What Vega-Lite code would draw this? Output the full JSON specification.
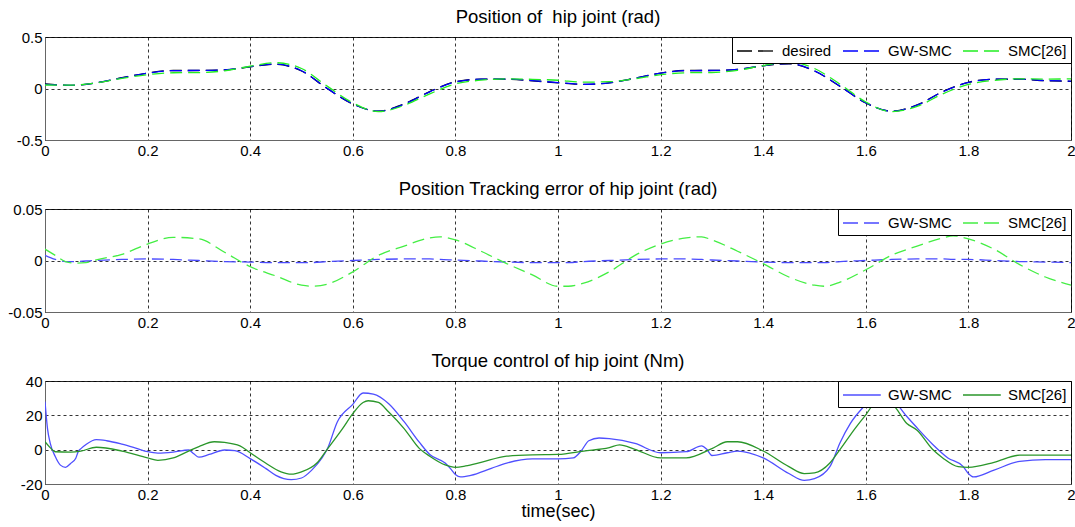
{
  "$schema": "https://vega.github.io/schema/vega-lite/v6.json",
  "background": "#ffffff",
  "padding": {"left": 4, "top": 7, "right": 5, "bottom": 2},
  "spacing": 20,
  "resolve": {"scale": {"color": "independent"}, "legend": {"color": "independent"}},
  "config": {
    "font": "Liberation Sans",
    "view": {"stroke": "#222222", "strokeWidth": 1},
    "title": {"font": "Liberation Sans", "fontSize": 18.5, "fontWeight": "normal", "color": "#000000", "anchor": "middle", "offset": 4},
    "axis": {
      "labelFont": "Liberation Sans", "labelFontSize": 15, "labelColor": "#000000",
      "domainColor": "#666666", "ticks": false, "labelPadding": 3,
      "grid": true, "gridColor": "#000000", "gridDash": [3, 3], "gridOpacity": 1, "gridWidth": 0.8,
      "titleFont": "Liberation Sans", "titleFontWeight": "normal", "titleColor": "#000000"
    },
    "axisY": {"minExtent": 40, "maxExtent": 40},
    "axisX": {"minExtent": 18, "maxExtent": 18, "labelFlush": false},
    "legend": {
      "orient": "top-right", "offset": 0, "direction": "horizontal",
      "strokeColor": "#000000", "fillColor": "#ffffff", "padding": 4, "cornerRadius": 0,
      "symbolType": "M-1,0H3.2", "symbolSize": 324, "symbolStrokeWidth": 1.3,
      "labelFont": "Liberation Sans", "labelFontSize": 15, "labelColor": "#000000",
      "labelOffset": 26, "columnPadding": 8
    }
  },
  "vconcat": [
    {
      "title": "Position of\u00a0 hip joint (rad)",
      "width": 1026, "height": 103,
      "data": {"values": [
        {"t": 0, "desired": 0.045, "gw": 0.040, "smc": 0.034},
        {"t": 0.05, "desired": 0.030, "gw": 0.031, "smc": 0.032},
        {"t": 0.1, "desired": 0.055, "gw": 0.055, "smc": 0.054},
        {"t": 0.15, "desired": 0.105, "gw": 0.104, "smc": 0.099},
        {"t": 0.2, "desired": 0.150, "gw": 0.149, "smc": 0.134},
        {"t": 0.25, "desired": 0.175, "gw": 0.174, "smc": 0.153},
        {"t": 0.3, "desired": 0.175, "gw": 0.175, "smc": 0.154},
        {"t": 0.35, "desired": 0.180, "gw": 0.181, "smc": 0.172},
        {"t": 0.4, "desired": 0.210, "gw": 0.212, "smc": 0.216},
        {"t": 0.45, "desired": 0.235, "gw": 0.237, "smc": 0.250},
        {"t": 0.5, "desired": 0.170, "gw": 0.172, "smc": 0.194},
        {"t": 0.55, "desired": 0.000, "gw": 0.001, "smc": 0.023},
        {"t": 0.6, "desired": -0.150, "gw": -0.150, "smc": -0.139},
        {"t": 0.65, "desired": -0.220, "gw": -0.221, "smc": -0.225},
        {"t": 0.7, "desired": -0.150, "gw": -0.152, "smc": -0.164},
        {"t": 0.75, "desired": -0.030, "gw": -0.032, "smc": -0.052},
        {"t": 0.8, "desired": 0.065, "gw": 0.064, "smc": 0.045},
        {"t": 0.85, "desired": 0.090, "gw": 0.090, "smc": 0.081},
        {"t": 0.9, "desired": 0.090, "gw": 0.092, "smc": 0.093},
        {"t": 0.95, "desired": 0.075, "gw": 0.077, "smc": 0.089},
        {"t": 1.0, "desired": 0.055, "gw": 0.057, "smc": 0.080},
        {"t": 1.05, "desired": 0.040, "gw": 0.041, "smc": 0.062},
        {"t": 1.1, "desired": 0.055, "gw": 0.055, "smc": 0.066},
        {"t": 1.15, "desired": 0.100, "gw": 0.099, "smc": 0.095},
        {"t": 1.2, "desired": 0.150, "gw": 0.149, "smc": 0.134},
        {"t": 1.25, "desired": 0.175, "gw": 0.174, "smc": 0.153},
        {"t": 1.3, "desired": 0.175, "gw": 0.175, "smc": 0.155},
        {"t": 1.35, "desired": 0.185, "gw": 0.186, "smc": 0.176},
        {"t": 1.4, "desired": 0.220, "gw": 0.222, "smc": 0.223},
        {"t": 1.45, "desired": 0.240, "gw": 0.242, "smc": 0.256},
        {"t": 1.5, "desired": 0.170, "gw": 0.172, "smc": 0.194},
        {"t": 1.55, "desired": 0.020, "gw": 0.021, "smc": 0.041},
        {"t": 1.6, "desired": -0.140, "gw": -0.140, "smc": -0.131},
        {"t": 1.65, "desired": -0.220, "gw": -0.221, "smc": -0.225},
        {"t": 1.7, "desired": -0.160, "gw": -0.162, "smc": -0.174},
        {"t": 1.75, "desired": -0.030, "gw": -0.032, "smc": -0.052},
        {"t": 1.8, "desired": 0.060, "gw": 0.059, "smc": 0.039},
        {"t": 1.85, "desired": 0.090, "gw": 0.090, "smc": 0.079},
        {"t": 1.9, "desired": 0.090, "gw": 0.091, "smc": 0.094},
        {"t": 1.95, "desired": 0.075, "gw": 0.077, "smc": 0.091},
        {"t": 2.0, "desired": 0.070, "gw": 0.072, "smc": 0.094}
      ]},
      "transform": [{"fold": ["desired", "gw", "smc"], "as": ["series", "value"]}],
      "mark": {"type": "line", "strokeDash": [12, 6], "strokeWidth": 1.3, "interpolate": "monotone", "clip": true},
      "encoding": {
        "x": {"field": "t", "type": "quantitative", "scale": {"domain": [0, 2], "nice": false},
              "axis": {"values": [0, 0.2, 0.4, 0.6, 0.8, 1, 1.2, 1.4, 1.6, 1.8, 2], "format": "~g", "title": null}},
        "y": {"field": "value", "type": "quantitative", "scale": {"domain": [-0.5, 0.5], "nice": false},
              "axis": {"values": [-0.5, 0, 0.5], "format": "~g", "title": null, "labelExpr": "replace(datum.label, '\u2212', '-')"}},
        "color": {"field": "series", "type": "nominal",
                  "scale": {"domain": ["desired", "gw", "smc"], "range": ["#000000", "#0000ff", "#22ee22"]},
                  "legend": {"title": null, "symbolDash": [15, 6], "labelExpr": "datum.value == 'desired' ? 'desired' : datum.value == 'gw' ? 'GW-SMC' : 'SMC[26]'"}}
      }
    },
    {
      "title": "Position Tracking error of hip joint (rad)",
      "width": 1026, "height": 103,
      "data": {"values": [
        {"t": 0, "gw": 0.005, "smc": 0.011},
        {"t": 0.02, "gw": 0.001, "smc": 0.005},
        {"t": 0.04, "gw": -0.001, "smc": -0.001},
        {"t": 0.06, "gw": -0.001, "smc": -0.0025},
        {"t": 0.08, "gw": -0.0005, "smc": -0.002},
        {"t": 0.1, "gw": 0, "smc": 0.0007},
        {"t": 0.15, "gw": 0.001, "smc": 0.006},
        {"t": 0.2, "gw": 0.0015, "smc": 0.016},
        {"t": 0.25, "gw": 0.001, "smc": 0.0225},
        {"t": 0.3, "gw": 0, "smc": 0.021},
        {"t": 0.35, "gw": -0.001, "smc": 0.008},
        {"t": 0.4, "gw": -0.0015, "smc": -0.006},
        {"t": 0.45, "gw": -0.002, "smc": -0.015},
        {"t": 0.5, "gw": -0.002, "smc": -0.024},
        {"t": 0.52, "gw": -0.002, "smc": -0.025},
        {"t": 0.55, "gw": -0.001, "smc": -0.023},
        {"t": 0.6, "gw": 0, "smc": -0.011},
        {"t": 0.65, "gw": 0.001, "smc": 0.005},
        {"t": 0.7, "gw": 0.0015, "smc": 0.014},
        {"t": 0.75, "gw": 0.0015, "smc": 0.022},
        {"t": 0.77, "gw": 0.001, "smc": 0.023},
        {"t": 0.8, "gw": 0.0005, "smc": 0.02},
        {"t": 0.85, "gw": -0.0005, "smc": 0.009},
        {"t": 0.9, "gw": -0.0015, "smc": -0.003},
        {"t": 0.95, "gw": -0.002, "smc": -0.014},
        {"t": 1.0, "gw": -0.002, "smc": -0.025},
        {"t": 1.02, "gw": -0.002, "smc": -0.025},
        {"t": 1.05, "gw": -0.001, "smc": -0.022},
        {"t": 1.1, "gw": 0, "smc": -0.011},
        {"t": 1.15, "gw": 0.001, "smc": 0.005},
        {"t": 1.2, "gw": 0.0015, "smc": 0.016},
        {"t": 1.25, "gw": 0.0015, "smc": 0.022},
        {"t": 1.28, "gw": 0.001, "smc": 0.023},
        {"t": 1.3, "gw": 0.0005, "smc": 0.02},
        {"t": 1.35, "gw": -0.0005, "smc": 0.009},
        {"t": 1.4, "gw": -0.0015, "smc": -0.003},
        {"t": 1.45, "gw": -0.002, "smc": -0.016},
        {"t": 1.5, "gw": -0.002, "smc": -0.024},
        {"t": 1.52, "gw": -0.002, "smc": -0.025},
        {"t": 1.55, "gw": -0.001, "smc": -0.021},
        {"t": 1.6, "gw": 0, "smc": -0.009},
        {"t": 1.65, "gw": 0.001, "smc": 0.005},
        {"t": 1.7, "gw": 0.0015, "smc": 0.014},
        {"t": 1.75, "gw": 0.0015, "smc": 0.022},
        {"t": 1.77, "gw": 0.001, "smc": 0.024},
        {"t": 1.8, "gw": 0.001, "smc": 0.021},
        {"t": 1.85, "gw": 0, "smc": 0.011},
        {"t": 1.9, "gw": -0.001, "smc": -0.004},
        {"t": 1.95, "gw": -0.0015, "smc": -0.016},
        {"t": 2.0, "gw": -0.002, "smc": -0.024}
      ]},
      "transform": [{"fold": ["gw", "smc"], "as": ["series", "value"]}],
      "mark": {"type": "line", "strokeDash": [12, 6], "strokeWidth": 1.3, "interpolate": "monotone", "clip": true},
      "encoding": {
        "x": {"field": "t", "type": "quantitative", "scale": {"domain": [0, 2], "nice": false},
              "axis": {"values": [0, 0.2, 0.4, 0.6, 0.8, 1, 1.2, 1.4, 1.6, 1.8, 2], "format": "~g", "title": null}},
        "y": {"field": "value", "type": "quantitative", "scale": {"domain": [-0.05, 0.05], "nice": false},
              "axis": {"values": [-0.05, 0, 0.05], "format": "~g", "title": null, "labelExpr": "replace(datum.label, '\u2212', '-')"}},
        "color": {"field": "series", "type": "nominal",
                  "scale": {"domain": ["gw", "smc"], "range": ["#4a4aff", "#44ee44"]},
                  "legend": {"title": null, "symbolDash": [15, 6], "labelExpr": "datum.value == 'gw' ? 'GW-SMC' : 'SMC[26]'"}}
      }
    },
    {
      "title": "Torque control of hip joint (Nm)",
      "width": 1026, "height": 103,
      "data": {"values": [
        {"t": 0, "series": "gw", "value": 28},
        {"t": 0.005, "series": "gw", "value": 12},
        {"t": 0.01, "series": "gw", "value": 4},
        {"t": 0.02, "series": "gw", "value": -4},
        {"t": 0.03, "series": "gw", "value": -9},
        {"t": 0.04, "series": "gw", "value": -10.3},
        {"t": 0.05, "series": "gw", "value": -8},
        {"t": 0.06, "series": "gw", "value": -5},
        {"t": 0.065, "series": "gw", "value": -1},
        {"t": 0.07, "series": "gw", "value": 0.6},
        {"t": 0.08, "series": "gw", "value": 3},
        {"t": 0.1, "series": "gw", "value": 5.8},
        {"t": 0.12, "series": "gw", "value": 5.2},
        {"t": 0.15, "series": "gw", "value": 3.2},
        {"t": 0.18, "series": "gw", "value": 0.6},
        {"t": 0.2, "series": "gw", "value": -1.2},
        {"t": 0.22, "series": "gw", "value": -2},
        {"t": 0.25, "series": "gw", "value": -1.4},
        {"t": 0.28, "series": "gw", "value": -0.2},
        {"t": 0.29, "series": "gw", "value": -2.4},
        {"t": 0.3, "series": "gw", "value": -4.4},
        {"t": 0.32, "series": "gw", "value": -2.8},
        {"t": 0.35, "series": "gw", "value": -0.2},
        {"t": 0.37, "series": "gw", "value": -0.6},
        {"t": 0.4, "series": "gw", "value": -5.2},
        {"t": 0.43, "series": "gw", "value": -10.9},
        {"t": 0.45, "series": "gw", "value": -15},
        {"t": 0.48, "series": "gw", "value": -17.5},
        {"t": 0.5, "series": "gw", "value": -16.5},
        {"t": 0.52, "series": "gw", "value": -11.9},
        {"t": 0.54, "series": "gw", "value": -4.8},
        {"t": 0.55, "series": "gw", "value": 0.2},
        {"t": 0.57, "series": "gw", "value": 16.3},
        {"t": 0.6, "series": "gw", "value": 26.4},
        {"t": 0.62, "series": "gw", "value": 33},
        {"t": 0.64, "series": "gw", "value": 32.4},
        {"t": 0.67, "series": "gw", "value": 26.8},
        {"t": 0.7, "series": "gw", "value": 16.3},
        {"t": 0.73, "series": "gw", "value": 4.2},
        {"t": 0.75, "series": "gw", "value": -2.8},
        {"t": 0.78, "series": "gw", "value": -7.8},
        {"t": 0.79, "series": "gw", "value": -10.9},
        {"t": 0.8, "series": "gw", "value": -14.5},
        {"t": 0.81, "series": "gw", "value": -15.9},
        {"t": 0.83, "series": "gw", "value": -15},
        {"t": 0.87, "series": "gw", "value": -10.9},
        {"t": 0.9, "series": "gw", "value": -7.8},
        {"t": 0.95, "series": "gw", "value": -5.4},
        {"t": 1.0, "series": "gw", "value": -5.4},
        {"t": 1.03, "series": "gw", "value": -4.8},
        {"t": 1.045, "series": "gw", "value": -0.8},
        {"t": 1.06, "series": "gw", "value": 5.2},
        {"t": 1.08, "series": "gw", "value": 6.8},
        {"t": 1.1, "series": "gw", "value": 6.4},
        {"t": 1.15, "series": "gw", "value": 3.6},
        {"t": 1.2, "series": "gw", "value": -1.8},
        {"t": 1.25, "series": "gw", "value": -1.2},
        {"t": 1.28, "series": "gw", "value": 2.2},
        {"t": 1.29, "series": "gw", "value": 0.2},
        {"t": 1.3, "series": "gw", "value": -3.4},
        {"t": 1.33, "series": "gw", "value": -1.8},
        {"t": 1.35, "series": "gw", "value": -0.8},
        {"t": 1.4, "series": "gw", "value": -4.8},
        {"t": 1.45, "series": "gw", "value": -13.9},
        {"t": 1.48, "series": "gw", "value": -17.9},
        {"t": 1.5, "series": "gw", "value": -16.9},
        {"t": 1.53, "series": "gw", "value": -9.9},
        {"t": 1.55, "series": "gw", "value": 4.2},
        {"t": 1.57, "series": "gw", "value": 15.3},
        {"t": 1.6, "series": "gw", "value": 26.4},
        {"t": 1.62, "series": "gw", "value": 33},
        {"t": 1.65, "series": "gw", "value": 30},
        {"t": 1.68, "series": "gw", "value": 19.3},
        {"t": 1.7, "series": "gw", "value": 12.7},
        {"t": 1.73, "series": "gw", "value": 3.2},
        {"t": 1.76, "series": "gw", "value": -4.8},
        {"t": 1.79, "series": "gw", "value": -9.9},
        {"t": 1.8, "series": "gw", "value": -13.9},
        {"t": 1.81, "series": "gw", "value": -15.9},
        {"t": 1.85, "series": "gw", "value": -11.9},
        {"t": 1.9, "series": "gw", "value": -6.8},
        {"t": 1.95, "series": "gw", "value": -5.8},
        {"t": 2.0, "series": "gw", "value": -5.8},
        {"t": 0, "series": "smc", "value": 4.6},
        {"t": 0.01, "series": "smc", "value": 1.2},
        {"t": 0.02, "series": "smc", "value": -1.2},
        {"t": 0.05, "series": "smc", "value": -1.4},
        {"t": 0.07, "series": "smc", "value": -0.8},
        {"t": 0.1, "series": "smc", "value": 1.4},
        {"t": 0.15, "series": "smc", "value": -0.8},
        {"t": 0.2, "series": "smc", "value": -4.8},
        {"t": 0.22, "series": "smc", "value": -6.2},
        {"t": 0.25, "series": "smc", "value": -4.8},
        {"t": 0.28, "series": "smc", "value": -0.8},
        {"t": 0.3, "series": "smc", "value": 1.8},
        {"t": 0.33, "series": "smc", "value": 4.6},
        {"t": 0.35, "series": "smc", "value": 4.2},
        {"t": 0.38, "series": "smc", "value": 2.2},
        {"t": 0.4, "series": "smc", "value": -1.8},
        {"t": 0.43, "series": "smc", "value": -7.8},
        {"t": 0.46, "series": "smc", "value": -12.9},
        {"t": 0.48, "series": "smc", "value": -14.3},
        {"t": 0.5, "series": "smc", "value": -12.9},
        {"t": 0.53, "series": "smc", "value": -7.8},
        {"t": 0.55, "series": "smc", "value": 0.2},
        {"t": 0.58, "series": "smc", "value": 12.3},
        {"t": 0.6, "series": "smc", "value": 21},
        {"t": 0.62, "series": "smc", "value": 27.5},
        {"t": 0.63, "series": "smc", "value": 28.5},
        {"t": 0.65, "series": "smc", "value": 27.5},
        {"t": 0.67, "series": "smc", "value": 21.9},
        {"t": 0.7, "series": "smc", "value": 12.3},
        {"t": 0.73, "series": "smc", "value": 0.6},
        {"t": 0.75, "series": "smc", "value": -3.8},
        {"t": 0.78, "series": "smc", "value": -8.9},
        {"t": 0.8, "series": "smc", "value": -10.3},
        {"t": 0.82, "series": "smc", "value": -9.5},
        {"t": 0.85, "series": "smc", "value": -7.4},
        {"t": 0.9, "series": "smc", "value": -3.8},
        {"t": 0.95, "series": "smc", "value": -3},
        {"t": 1.0, "series": "smc", "value": -2.8},
        {"t": 1.05, "series": "smc", "value": -0.8},
        {"t": 1.1, "series": "smc", "value": 1.2},
        {"t": 1.12, "series": "smc", "value": 2.8},
        {"t": 1.15, "series": "smc", "value": 0.2},
        {"t": 1.2, "series": "smc", "value": -4.8},
        {"t": 1.25, "series": "smc", "value": -4.8},
        {"t": 1.3, "series": "smc", "value": 0.6},
        {"t": 1.33, "series": "smc", "value": 4.6},
        {"t": 1.35, "series": "smc", "value": 4.6},
        {"t": 1.4, "series": "smc", "value": -0.8},
        {"t": 1.45, "series": "smc", "value": -9.9},
        {"t": 1.48, "series": "smc", "value": -13.9},
        {"t": 1.5, "series": "smc", "value": -13.5},
        {"t": 1.53, "series": "smc", "value": -7.8},
        {"t": 1.55, "series": "smc", "value": 0.2},
        {"t": 1.58, "series": "smc", "value": 12.7},
        {"t": 1.6, "series": "smc", "value": 20.3},
        {"t": 1.62, "series": "smc", "value": 27.4},
        {"t": 1.65, "series": "smc", "value": 26.4},
        {"t": 1.68, "series": "smc", "value": 15.3},
        {"t": 1.7, "series": "smc", "value": 11.3},
        {"t": 1.73, "series": "smc", "value": 0.2},
        {"t": 1.75, "series": "smc", "value": -4.8},
        {"t": 1.78, "series": "smc", "value": -9.9},
        {"t": 1.8, "series": "smc", "value": -10.3},
        {"t": 1.85, "series": "smc", "value": -7.4},
        {"t": 1.9, "series": "smc", "value": -3.2},
        {"t": 1.95, "series": "smc", "value": -3.2},
        {"t": 2.0, "series": "smc", "value": -3.2}
      ]},
      "mark": {"type": "line", "strokeWidth": 1.3, "interpolate": "monotone", "clip": true},
      "encoding": {
        "x": {"field": "t", "type": "quantitative", "scale": {"domain": [0, 2], "nice": false},
              "axis": {"values": [0, 0.2, 0.4, 0.6, 0.8, 1, 1.2, 1.4, 1.6, 1.8, 2], "format": "~g", "title": "time(sec)", "titleFontSize": 18, "titlePadding": 0}},
        "y": {"field": "value", "type": "quantitative", "scale": {"domain": [-20, 40], "nice": false},
              "axis": {"values": [-20, 0, 20, 40], "format": "d", "title": null, "labelExpr": "replace(datum.label, '\u2212', '-')"}},
        "color": {"field": "series", "type": "nominal",
                  "scale": {"domain": ["gw", "smc"], "range": ["#4f4fff", "#2a962a"]},
                  "legend": {"title": null, "labelExpr": "datum.value == 'gw' ? 'GW-SMC' : 'SMC[26]'"}}
      }
    }
  ]
}
